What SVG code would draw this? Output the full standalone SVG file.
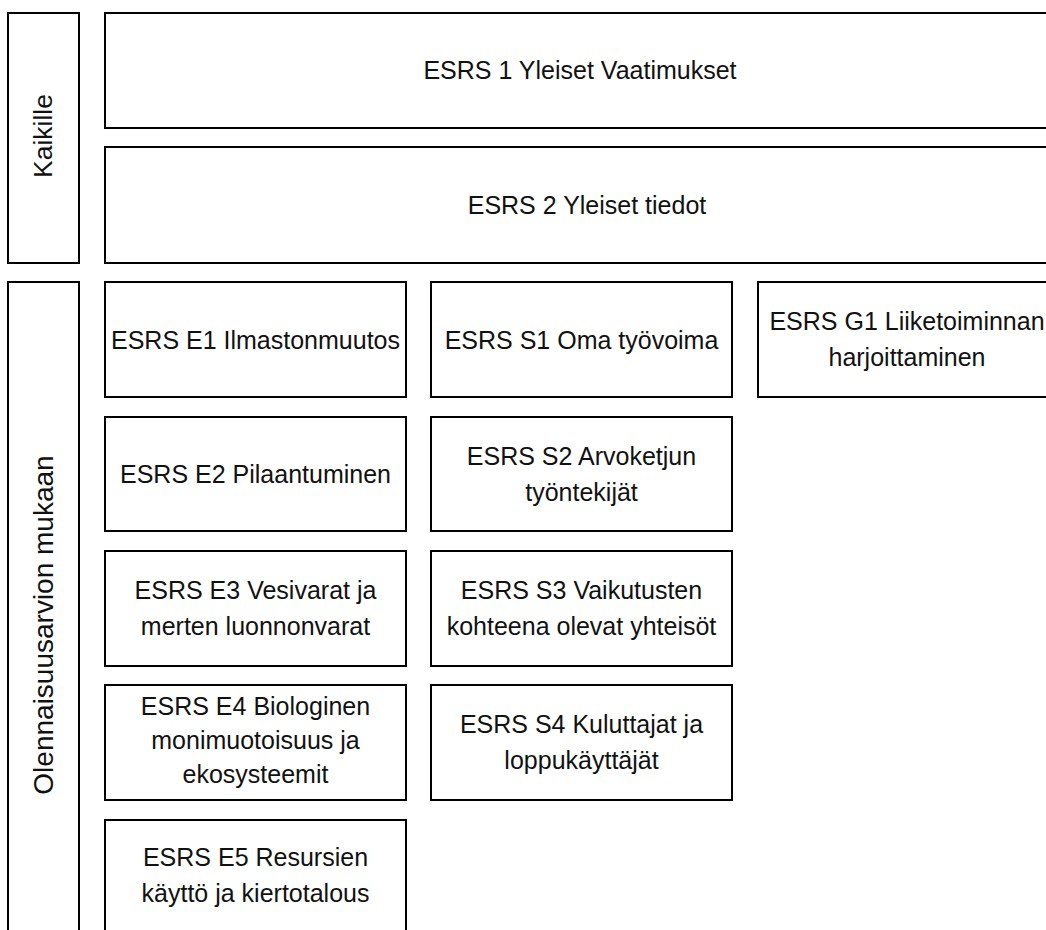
<svg xmlns="http://www.w3.org/2000/svg" width="1046" height="930" viewBox="0 0 1046 930">
<style>
.box{fill:#fff;stroke:#000;stroke-width:2}
.t{font-family:"Liberation Sans",Arial,sans-serif;font-size:25px;fill:#111;text-anchor:middle}
.v{font-family:"Liberation Sans",Arial,sans-serif;fill:#111;text-anchor:middle}
</style>
<rect width="1046" height="930" fill="#fff"/>
<g id="kaikille">
<rect class="box" x="8" y="13" width="71" height="250"/>
<text class="v" font-size="26.5" transform="translate(52,136) rotate(-90)">Kaikille</text>
</g>
<g id="olennaisuus">
<rect class="box" x="8" y="282" width="71" height="660"/>
<text class="v" font-size="28" transform="translate(53,625) rotate(-90)">Olennaisuusarvion mukaan</text>
</g>
<g id="esrs1">
<rect class="box" x="105" y="13" width="951" height="115"/>
<text class="t" x="580" y="79">ESRS 1 Yleiset Vaatimukset</text>
</g>
<g id="esrs2">
<rect class="box" x="105" y="147" width="951" height="116"/>
<text class="t" x="587" y="214">ESRS 2 Yleiset tiedot</text>
</g>
<g id="e1">
<rect class="box" x="105" y="282" width="301" height="115"/>
<text class="t" x="255.5" y="349">ESRS E1 Ilmastonmuutos</text>
</g>
<g id="e2">
<rect class="box" x="105" y="417" width="301" height="114"/>
<text class="t" x="255.5" y="483">ESRS E2 Pilaantuminen</text>
</g>
<g id="e3">
<rect class="box" x="105" y="551" width="301" height="115"/>
<text class="t" x="255.5" y="599">ESRS E3 Vesivarat ja</text>
<text class="t" x="255.5" y="635">merten luonnonvarat</text>
</g>
<g id="e4">
<rect class="box" x="105" y="685" width="301" height="115"/>
<text class="t" x="255.5" y="714.5">ESRS E4 Biologinen</text>
<text class="t" x="255.5" y="748.5">monimuotoisuus ja</text>
<text class="t" x="255.5" y="782.5">ekosysteemit</text>
</g>
<g id="e5">
<rect class="box" x="105" y="820" width="301" height="125"/>
<text class="t" x="255.5" y="866">ESRS E5 Resursien</text>
<text class="t" x="255.5" y="902">käyttö ja kiertotalous</text>
</g>
<g id="s1">
<rect class="box" x="431" y="282" width="301" height="115"/>
<text class="t" x="581.5" y="349">ESRS S1 Oma työvoima</text>
</g>
<g id="s2">
<rect class="box" x="431" y="417" width="301" height="114"/>
<text class="t" x="581.5" y="465">ESRS S2 Arvoketjun</text>
<text class="t" x="581.5" y="501">työntekijät</text>
</g>
<g id="s3">
<rect class="box" x="431" y="551" width="301" height="115"/>
<text class="t" x="581.5" y="599">ESRS S3 Vaikutusten</text>
<text class="t" x="581.5" y="635">kohteena olevat yhteisöt</text>
</g>
<g id="s4">
<rect class="box" x="431" y="685" width="301" height="115"/>
<text class="t" x="581.5" y="733">ESRS S4 Kuluttajat ja</text>
<text class="t" x="581.5" y="769">loppukäyttäjät</text>
</g>
<g id="g1">
<rect class="box" x="758" y="282" width="298" height="115"/>
<text class="t" x="907" y="329.5">ESRS G1 Liiketoiminnan</text>
<text class="t" x="907" y="365.5">harjoittaminen</text>
</g>
</svg>
